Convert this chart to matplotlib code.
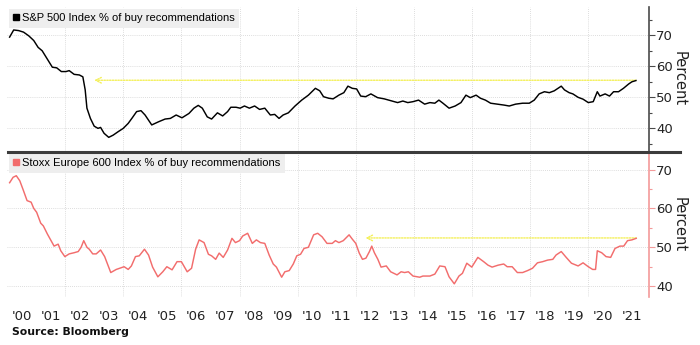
import matplotlib
matplotlib.use("Agg")
import matplotlib.pyplot as plt
from matplotlib.lines import Line2D
from matplotlib.ticker import MultipleLocator

# S&P 500 share of buy recommendations (%)
spx_year = [2000.09, 2000.23, 2000.40, 2000.57, 2000.75, 2000.92, 2001.07, 2001.21, 2001.39, 2001.56,
            2001.71, 2001.87, 2002.03, 2002.14, 2002.31, 2002.49, 2002.61, 2002.69, 2002.75, 2002.87,
            2003.00, 2003.13, 2003.22, 2003.34, 2003.50, 2003.65, 2003.82, 2004.00, 2004.17, 2004.31,
            2004.46, 2004.61, 2004.75, 2004.98, 2005.21, 2005.44, 2005.62, 2005.82, 2006.02, 2006.26,
            2006.43, 2006.58, 2006.72, 2006.89, 2007.04, 2007.24, 2007.42, 2007.59, 2007.70, 2007.88,
            2008.02, 2008.17, 2008.34, 2008.52, 2008.69, 2008.87, 2009.06, 2009.21, 2009.36, 2009.50,
            2009.68, 2009.91, 2010.14, 2010.37, 2010.61, 2010.76, 2010.89, 2011.07, 2011.22, 2011.42,
            2011.59, 2011.73, 2011.88, 2012.03, 2012.17, 2012.34, 2012.52, 2012.75, 2012.98, 2013.21,
            2013.44, 2013.62, 2013.79, 2013.97, 2014.16, 2014.37, 2014.55, 2014.72, 2014.86, 2015.00,
            2015.21, 2015.42, 2015.62, 2015.79, 2015.94, 2016.14, 2016.29, 2016.46, 2016.64, 2016.87,
            2017.10, 2017.28, 2017.50, 2017.74, 2017.97, 2018.14, 2018.31, 2018.49, 2018.66, 2018.83,
            2019.07, 2019.18, 2019.34, 2019.47, 2019.65, 2019.82, 2020.00, 2020.17, 2020.31, 2020.40,
            2020.58, 2020.73, 2020.87, 2021.04, 2021.21, 2021.39, 2021.50, 2021.64]
spx_buy = [69.4, 71.7, 71.5, 71.0, 69.8, 68.3, 66.1, 65.0, 62.3, 59.7,
           59.5, 58.3, 58.3, 58.6, 57.4, 57.2, 56.6, 52.4, 46.5, 43.2,
           40.7, 40.0, 40.3, 38.4, 37.1, 37.8, 38.9, 40.0, 41.6, 43.4,
           45.4, 45.7, 44.3, 41.1, 42.1, 43.0, 43.2, 44.3, 43.4, 44.8,
           46.5, 47.4, 46.5, 43.7, 43.0, 45.0, 44.0, 45.4, 46.8, 46.8,
           46.5, 47.2, 46.5, 47.2, 46.1, 46.5, 44.3, 44.5, 43.2, 44.3,
           45.0, 47.2, 49.1, 50.7, 52.9, 52.1, 50.2, 49.7, 49.5, 50.7,
           51.5, 53.6, 52.9, 52.7, 50.4, 50.2, 51.1, 49.9, 49.5, 48.9,
           48.3, 48.8, 48.3, 48.6, 49.1, 47.8, 48.3, 48.1, 49.1, 48.1,
           46.5, 47.2, 48.3, 50.7, 49.9, 50.7, 49.7, 49.1, 48.1, 47.8,
           47.5, 47.2, 47.8, 48.1, 48.1, 49.1, 51.1, 51.8, 51.5, 52.1,
           53.6, 52.4, 51.5, 51.1, 50.0, 49.4, 48.3, 48.6, 51.8, 50.4,
           51.1, 50.4, 51.8, 51.8, 52.9, 54.3, 55.0, 55.4]

# Stoxx Europe 600 share of buy recommendations (%)
sxxp_year = [2000.09, 2000.21, 2000.32, 2000.44, 2000.56, 2000.69, 2000.83, 2000.92, 2001.02, 2001.16,
             2001.25, 2001.39, 2001.50, 2001.62, 2001.76, 2001.85, 2001.99, 2002.14, 2002.31, 2002.45,
             2002.55, 2002.64, 2002.75, 2002.83, 2002.95, 2003.07, 2003.22, 2003.36, 2003.57, 2003.76,
             2004.03, 2004.17, 2004.28, 2004.42, 2004.55, 2004.73, 2004.87, 2005.01, 2005.19, 2005.36,
             2005.50, 2005.68, 2005.85, 2006.00, 2006.20, 2006.35, 2006.49, 2006.61, 2006.78, 2006.93,
             2007.04, 2007.18, 2007.30, 2007.44, 2007.59, 2007.74, 2007.86, 2008.00, 2008.11, 2008.28,
             2008.44, 2008.58, 2008.72, 2008.87, 2009.02, 2009.16, 2009.27, 2009.45, 2009.56, 2009.71,
             2009.85, 2009.97, 2010.10, 2010.22, 2010.37, 2010.55, 2010.69, 2010.84, 2011.01, 2011.19,
             2011.30, 2011.42, 2011.57, 2011.77, 2011.88, 2012.00, 2012.12, 2012.23, 2012.35, 2012.47,
             2012.55, 2012.64, 2012.76, 2012.87, 2013.05, 2013.20, 2013.42, 2013.56, 2013.68, 2013.81,
             2013.97, 2014.20, 2014.31, 2014.55, 2014.72, 2014.89, 2015.07, 2015.21, 2015.39, 2015.55,
             2015.67, 2015.82, 2015.99, 2016.20, 2016.40, 2016.55, 2016.69, 2016.90, 2017.09, 2017.21,
             2017.38, 2017.56, 2017.74, 2017.91, 2018.08, 2018.25, 2018.43, 2018.60, 2018.78, 2018.89,
             2019.07, 2019.24, 2019.42, 2019.65, 2019.82, 2020.00, 2020.15, 2020.25, 2020.31, 2020.46,
             2020.61, 2020.77, 2020.92, 2021.09, 2021.22, 2021.35, 2021.50, 2021.65]
sxxp_buy = [66.6, 68.0, 68.4, 67.1, 64.7, 62.0, 61.6, 60.0, 59.0, 56.2,
            55.5, 53.4, 51.9, 50.3, 50.8, 49.1, 47.6, 48.3, 48.6, 48.9,
            50.0, 51.7, 50.0, 49.5, 48.3, 48.3, 49.3, 47.6, 43.5, 44.3,
            45.0, 44.3, 45.2, 47.6, 47.8, 49.5, 48.0, 44.9, 42.4, 43.7,
            45.0, 44.2, 46.3, 46.3, 43.7, 44.6, 49.5, 51.9, 51.2, 48.2,
            47.8, 46.9, 48.5, 47.4, 49.3, 52.3, 51.2, 51.7, 52.9, 53.6,
            51.0, 51.9, 51.2, 51.0, 48.0, 45.7, 44.9, 42.3, 43.7, 44.0,
            45.7, 47.8, 48.2, 49.7, 50.0, 53.2, 53.6, 52.7, 51.0, 51.0,
            51.7, 51.2, 51.7, 53.2, 52.1, 51.0, 48.5, 46.9, 47.2, 48.9,
            50.3, 48.6, 46.9, 44.9, 45.2, 43.7, 42.9, 43.7, 43.5, 43.7,
            42.6, 42.3, 42.6, 42.6, 43.1, 45.2, 45.0, 42.4, 40.6, 42.6,
            43.3, 45.9, 44.9, 47.4, 46.3, 45.4, 44.9, 45.4, 45.7, 45.0,
            45.0, 43.5, 43.5, 44.0, 44.6, 46.0, 46.3, 46.7, 46.9, 48.0,
            48.9, 47.4, 45.9, 45.2, 46.0, 45.0, 44.3, 44.3, 49.1, 48.6,
            47.6, 47.4, 49.7, 50.3, 50.3, 51.7, 51.9, 52.3]

# yellow "same level as" arrows: (from year, to year, level)
spx_arrow = (2021.64, 2003.0, 55.5)
sxxp_arrow = (2021.65, 2012.33, 52.4)

year_labels = ["'%02d" % (y % 100) for y in range(2000, 2022)]

spx_color = "black"
sxxp_color = "#f26d6d"
grid_color = "#d2d2d2"
arrow_color = "#f4f05a"

fig = plt.figure(figsize=(7, 3.45), dpi=100)
ax1 = fig.add_axes([0.010, 0.5623, 0.9176, 0.4174])
ax2 = fig.add_axes([0.010, 0.1390, 0.9176, 0.4204])

panels = [
    (ax1, spx_year, spx_buy, spx_color, "#4a4a4a", (32.7, 79.1), spx_arrow,
     "S&P 500 Index % of buy recommendations"),
    (ax2, sxxp_year, sxxp_buy, sxxp_color, "#f39a9a", (37.2, 74.5), sxxp_arrow,
     "Stoxx Europe 600 Index % of buy recommendations"),
]

for ax, xs, ys, col, spine_col, ylim, arr, name in panels:
    ax.plot(xs, ys, color=col, lw=1.05, zorder=3)
    ax.set_xlim(2000.0, 2022.1)
    ax.set_ylim(*ylim)

    for s in ["left", "top", "bottom"]:
        ax.spines[s].set_visible(False)
    ax.spines["right"].set_color(spine_col)
    ax.spines["right"].set_linewidth(1.2)

    ax.yaxis.tick_right()
    ax.yaxis.set_label_position("right")
    ax.set_yticks([40, 50, 60, 70])
    ax.yaxis.set_minor_locator(MultipleLocator(5))
    ax.tick_params(axis="y", which="major", length=4, width=0.8, color=spine_col,
                   pad=1, labelsize=9.5, labelcolor="#222222")
    ax.tick_params(axis="y", which="minor", length=2.5, width=0.8, color=spine_col)
    ax.set_ylabel("Percent", rotation=270, fontsize=10.5, labelpad=10, color="#222222")

    ax.set_xticks(list(range(2002, 2021, 2)))
    ax.tick_params(axis="x", which="both", length=0)
    ax.grid(True, which="major", color=grid_color, linestyle=(0, (1, 1.5)), lw=0.6)
    ax.set_axisbelow(True)

    x0, x1, lvl = arr
    ax.annotate("", xy=(x1, lvl), xytext=(x0, lvl),
                arrowprops=dict(arrowstyle="->", color=arrow_color, lw=1.0,
                                linestyle=(0, (1, 1)), shrinkA=0, shrinkB=0),
                zorder=2)

    handle = Line2D([], [], color=col, marker="s", linestyle="none", markersize=5)
    leg = ax.legend([handle], [name], loc="upper left", bbox_to_anchor=(0.0, 1.0),
                    frameon=True, fancybox=False, handlelength=0.6, handletextpad=0.2,
                    borderpad=0.4, borderaxespad=0.15,
                    prop={"family": "Liberation Sans", "size": 8.0})
    leg.get_frame().set_facecolor("#eeeeee")
    leg.get_frame().set_edgecolor("none")
    leg.get_frame().set_alpha(1)

ax1.set_xticklabels([])
ax2.set_xticks([y + 0.5 for y in range(2000, 2022)], minor=True)
ax2.set_xticklabels(year_labels, minor=True)
ax2.tick_params(axis="x", which="minor", length=0, pad=9, labelsize=9.5, labelcolor="#222222")
ax2.set_xticklabels([])

# dark separator between the two panels
fig.add_artist(Line2D([8 / 700, 680 / 700], [1 - 151.5 / 345, 1 - 151.5 / 345],
                      transform=fig.transFigure, color="#3c3c3c", lw=2.2))

fig.text(12 / 700, 1 - 332 / 345, "Source: Bloomberg", fontsize=7.8, fontweight="bold",
         ha="left", va="center", color="#111111")

fig.savefig("out.png", dpi=100)
